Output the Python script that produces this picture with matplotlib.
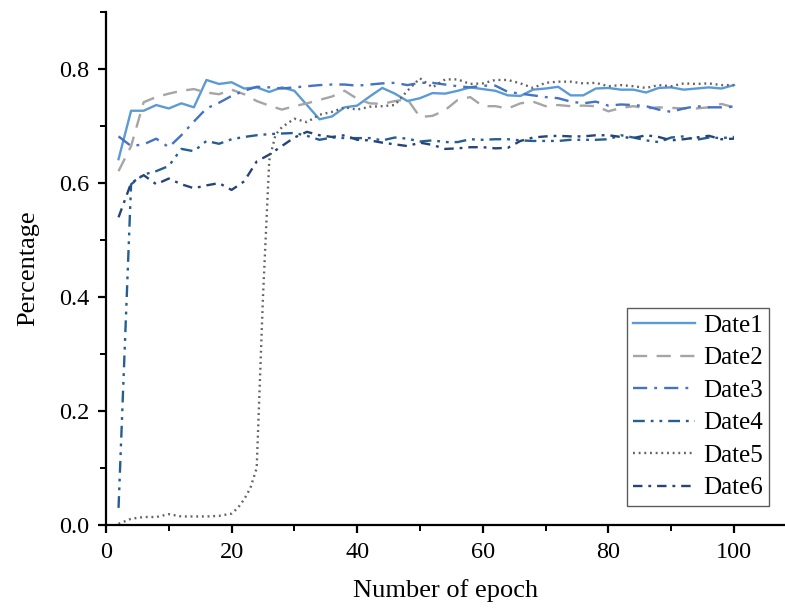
import matplotlib
matplotlib.use("Agg")
import matplotlib.pyplot as plt
from matplotlib.ticker import MultipleLocator

epochs = list(range(2, 101, 2))

date1 = [0.642, 0.727, 0.727, 0.737, 0.731, 0.740, 0.733, 0.781, 0.774, 0.777,
         0.766, 0.768, 0.760, 0.768, 0.762, 0.737, 0.712, 0.717, 0.733, 0.736,
         0.752, 0.767, 0.757, 0.744, 0.749, 0.758, 0.757, 0.762, 0.768, 0.765,
         0.762, 0.754, 0.753, 0.764, 0.766, 0.769, 0.754, 0.754, 0.766, 0.767,
         0.764, 0.764, 0.759, 0.767, 0.768, 0.764, 0.766, 0.768, 0.766, 0.772]

date2 = [0.621, 0.665, 0.742, 0.751, 0.757, 0.762, 0.765, 0.759, 0.756, 0.764,
         0.756, 0.744, 0.736, 0.729, 0.735, 0.740, 0.746, 0.752, 0.762, 0.748,
         0.740, 0.739, 0.744, 0.747, 0.716, 0.718, 0.728, 0.746, 0.751, 0.735,
         0.735, 0.731, 0.740, 0.743, 0.735, 0.737, 0.735, 0.736, 0.735, 0.726,
         0.732, 0.735, 0.731, 0.733, 0.732, 0.731, 0.731, 0.733, 0.739, 0.733]

date3 = [0.682, 0.665, 0.668, 0.678, 0.663, 0.684, 0.708, 0.731, 0.741, 0.753,
         0.762, 0.769, 0.768, 0.766, 0.768, 0.770, 0.772, 0.773, 0.773, 0.771,
         0.773, 0.775, 0.776, 0.772, 0.776, 0.776, 0.773, 0.770, 0.768, 0.771,
         0.771, 0.760, 0.757, 0.754, 0.751, 0.749, 0.743, 0.740, 0.743, 0.736,
         0.738, 0.737, 0.735, 0.729, 0.725, 0.731, 0.735, 0.733, 0.733, 0.734]

date4 = [0.030, 0.598, 0.615, 0.621, 0.630, 0.660, 0.656, 0.674, 0.669, 0.677,
         0.681, 0.684, 0.686, 0.687, 0.688, 0.683, 0.676, 0.680, 0.679, 0.679,
         0.679, 0.675, 0.680, 0.678, 0.673, 0.675, 0.672, 0.672, 0.677, 0.676,
         0.677, 0.677, 0.675, 0.674, 0.674, 0.674, 0.676, 0.676, 0.676, 0.677,
         0.684, 0.680, 0.675, 0.672, 0.680, 0.682, 0.676, 0.680, 0.679, 0.681]

epochs5 = [2, 4, 6, 8, 10, 12, 14, 16, 18, 20, 21, 22, 23, 24, 25, 26, 27, 28,
           30, 32, 34, 36, 38, 40, 42, 44, 46, 48, 50, 52, 54, 56, 58, 60,
           62, 64, 66, 68, 70, 72, 74, 76, 78, 80, 82, 84, 86, 88, 90, 92,
           94, 96, 98, 100]
date5 = [0.002, 0.011, 0.014, 0.014, 0.019, 0.015, 0.015, 0.015, 0.016, 0.020,
         0.030, 0.045, 0.065, 0.100, 0.400, 0.640, 0.685, 0.698,
         0.713, 0.707, 0.720, 0.725, 0.733, 0.729, 0.734, 0.735, 0.737, 0.762,
         0.784, 0.768, 0.782, 0.782, 0.774, 0.775, 0.781, 0.781, 0.775, 0.767,
         0.776, 0.778, 0.778, 0.775, 0.776, 0.770, 0.772, 0.770, 0.767, 0.772,
         0.770, 0.775, 0.774, 0.775, 0.772, 0.772]

date6 = [0.540, 0.600, 0.614, 0.598, 0.608, 0.598, 0.591, 0.596, 0.600, 0.588,
         0.603, 0.638, 0.650, 0.665, 0.680, 0.690, 0.684, 0.681, 0.684, 0.676,
         0.675, 0.671, 0.668, 0.665, 0.671, 0.667, 0.660, 0.661, 0.663, 0.663,
         0.661, 0.662, 0.674, 0.680, 0.682, 0.683, 0.682, 0.682, 0.684, 0.684,
         0.681, 0.679, 0.684, 0.681, 0.675, 0.677, 0.680, 0.683, 0.677, 0.678]

labels = ["Date1", "Date2", "Date3", "Date4", "Date5", "Date6"]

plt.rcParams['font.family'] = ['Liberation Serif', 'DejaVu Serif']

fig = plt.figure(figsize=(7.85, 6.08), dpi=100)
ax = fig.add_axes([0.135, 0.1365, 0.864, 0.8435])

lw = 1.7
ax.plot(epochs, date1, color='#5B9BD5', lw=lw, linestyle='-', label=labels[0])
ax.plot(epochs, date2, color='#A5A5A5', lw=lw, linestyle=(0, (6, 4)), label=labels[1])
ax.plot(epochs, date3, color='#4472C4', lw=lw, linestyle=(0, (6, 3, 1.2, 3)), label=labels[2])
ax.plot(epochs, date4, color='#255E91', lw=lw, linestyle=(0, (5, 2.5, 1.2, 2.5, 1.2, 2.5)), label=labels[3])
ax.plot(epochs5, date5, color='#636363', lw=lw, linestyle=(0, (0.8, 1.6)), label=labels[4])
ax.plot(epochs, date6, color='#264478', lw=lw, linestyle=(0, (4, 2.5, 1.2, 2.5)), label=labels[5])

ax.set_xlim(0, 108)
ax.set_ylim(0, 0.9)
ax.xaxis.set_major_locator(MultipleLocator(20))
ax.xaxis.set_minor_locator(MultipleLocator(10))
ax.yaxis.set_major_locator(MultipleLocator(0.2))
ax.yaxis.set_minor_locator(MultipleLocator(0.1))
ax.set_yticks([0.0, 0.2, 0.4, 0.6, 0.8])
ax.set_yticklabels(['0.0', '0.2', '0.4', '0.6', '0.8'])

for s in ['top', 'right']:
    ax.spines[s].set_visible(False)
for s in ['left', 'bottom']:
    ax.spines[s].set_linewidth(1.6)
ax.tick_params(which='major', direction='out', length=6, width=1.6, labelsize=17.5, pad=6)
ax.tick_params(which='minor', direction='out', length=4, width=1.4)

ax.set_xlabel('Number of epoch', fontsize=19, labelpad=12)
ax.set_ylabel('Percentage', fontsize=19, labelpad=14)

leg = ax.legend(loc='lower right', bbox_to_anchor=(0.978, 0.038), fontsize=18,
                frameon=True, fancybox=False, edgecolor='#333333',
                handlelength=2.45, labelspacing=0.4, borderpad=0.25,
                handletextpad=0.35, borderaxespad=0)
leg.get_frame().set_linewidth(1.0)

fig.savefig('out.png', dpi=100)
